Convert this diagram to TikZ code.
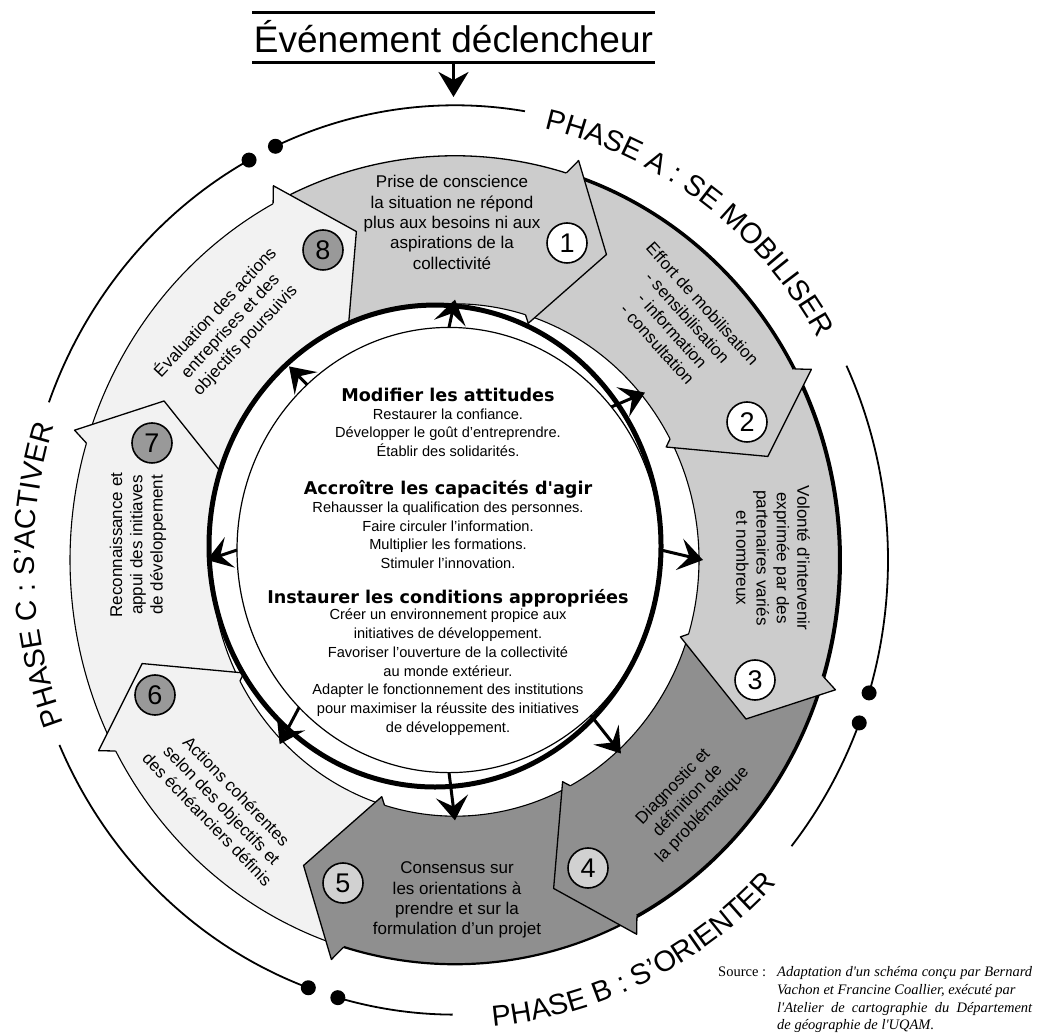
\documentclass[tikz,border=0pt]{standalone}
\usepackage{fontspec}
\setmainfont{Liberation Sans}
\newfontfamily\headfont{DejaVu Sans}
\newfontfamily\srcfont{Liberation Serif}
\usetikzlibrary{arrows.meta,decorations.text}

\definecolor{segA}{gray}{0.80}
\definecolor{segB}{gray}{0.56}
\definecolor{segC}{gray}{0.95}
\definecolor{numB}{gray}{0.82}
\definecolor{numC}{gray}{0.60}

\newcommand\fsz[2]{\fontsize{#1}{#2}\selectfont}
\newcommand\phasefont{\fontsize{29}{30}\selectfont}
\newcommand\Rout{385}
\newcommand\Rin{244}
\newcommand\Rph{433}

\newcommand\segbody[3]{%
  \fill[#2] (#1+45:\Rout) arc[start angle=#1+45, end angle=#1, radius=\Rout]
     -- (#1:\Rin) arc[start angle=#1, end angle=#1+45, radius=\Rin] -- cycle;
  \draw[line width=#3] (#1+45:\Rout) arc[start angle=#1+45, end angle=#1+0.8, radius=\Rout];
  \draw[line width=1.1pt] (#1+45:\Rin) arc[start angle=#1+45, end angle=#1+0.8, radius=\Rin];
}
\newcommand\seghead[2]{%
  \filldraw[fill=#2, line width=1.3pt, line join=round]
    (#1+1.2:\Rout) -- (#1:400) -- (#1-9.5:328) -- (#1:237) -- (#1+1.2:\Rin);
}

\begin{document}
\begin{tikzpicture}[x=1pt,y=1pt,
  dotc/.style={circle, fill=black, inner sep=0pt, minimum size=15pt},
  numc/.style={circle, draw, line width=1.6pt, minimum size=40pt, inner sep=0pt, font=\fsz{27}{27}},
  segtxt/.style={align=center, inner sep=0pt, font=\fsz{17}{20.3}},
  headtxt/.style={inner sep=0pt, font=\headfont\bfseries\fsz{17.6}{20}},
  bodytxt/.style={align=center, inner sep=0pt, font=\fsz{14.6}{18.8}},
  srctxt/.style={anchor=base west, inner sep=0pt, font=\srcfont\fsz{14.5}{18}},
  phasearc/.style={line width=1.8pt},
  smallarrow/.style={line width=3pt, -{Stealth[length=24pt,width=32pt,inset=10pt]}}
]
\fill[white] (0,0) rectangle (1040,1033);
\useasboundingbox (0,0) rectangle (1040,1033);

% ---------- title ----------
\draw[line width=3pt] (252,1020.5) -- (655,1020.5);
\draw[line width=3pt] (252,970) -- (655,970);
\node[anchor=base, inner sep=0pt] (title) at (453.5,980) {\fsz{37}{40}Événement déclencheur};
\coordinate (titlefoot) at (453.5,970);
\coordinate (ringtop) at (453.5,936);
\draw[line width=3pt, -{Stealth[length=25pt,width=30pt,inset=8pt]}] (titlefoot) -- (ringtop);

% ---------- ring ----------
\begin{scope}[shift={(455,473)}, yscale=1.05]
  \segbody{72}{segA}{1.3pt}
  \segbody{27}{segA}{3.5pt}
  \segbody{-18}{segA}{4pt}
  \segbody{-63}{segB}{3.5pt}
  \segbody{-108}{segB}{2.2pt}
  \segbody{-153}{segC}{1.1pt}
  \segbody{-198}{segC}{1.1pt}
  \segbody{-243}{segC}{1.1pt}
  \seghead{72}{segA}
  \seghead{27}{segA}
  \seghead{-18}{segA}
  \seghead{-63}{segB}
  \seghead{-108}{segB}
  \seghead{-153}{segC}
  \seghead{-198}{segC}
  \seghead{-243}{segC}

  % inner circles
  \filldraw[fill=white, line width=5pt] (-20,13.3) ellipse[x radius=226, y radius=229.5];
  \draw[line width=1.2pt] (-6,9.5) circle[radius=212];

  % small radiating arrows
  \foreach \a [count=\k] in {90,132,180,225,270,312,0,40}{
    \coordinate (ai\k) at ({-6+212*cos(\a)},{9.5+212*sin(\a)});
    \coordinate (ao\k) at (\a:248);
    \draw[smallarrow] (ai\k) -- (ao\k);
  }

  % phase arcs and dots
  \node[dotc] (dA1) at (114.5:\Rph) {};
  \node[dotc] (dA2) at (-17:\Rph) {};
  \node[dotc] (dB1) at (-21:\Rph) {};
  \node[dotc] (dB2) at (-105.7:\Rph) {};
  \node[dotc] (dC1) at (-109.8:\Rph) {};
  \node[dotc] (dC2) at (118.4:\Rph) {};
  \draw[phasearc] (dA1.center) arc[start angle=114.5, end angle=80.7, radius=\Rph];
  \draw[phasearc] (25.3:\Rph) arc[start angle=25.3, end angle=-17, radius=\Rph];
  \draw[phasearc] (dB1.center) arc[start angle=-21, end angle=-39, radius=\Rph];
  \draw[phasearc] (-90.3:\Rph) arc[start angle=-90.3, end angle=-105.7, radius=\Rph];
  \draw[phasearc] (dC1.center) arc[start angle=-109.8, end angle=-156, radius=\Rph];
  \draw[phasearc] (159.7:\Rph) arc[start angle=159.7, end angle=118.4, radius=\Rph];
\end{scope}

% ---------- phase titles ----------
\begin{scope}[shift={(455,473)}]
  \path[decorate, decoration={text along path, text align=center,
      text={|\phasefont|PHASE A : SE MOBILISER}}]
    (80:420 and 441) arc[start angle=80, end angle=28, x radius=420, y radius=441];
  \path[decorate, decoration={text along path, text align=center,
      text={|\phasefont|PHASE B : S'ORIENTER}}]
    (-90:446 and 468) arc[start angle=-90, end angle=-39, x radius=446, y radius=468];
  \path[decorate, decoration={text along path, text align=center,
      text={|\phasefont|PHASE C : S'ACTIVER}}]
    (207:421 and 442) arc[start angle=207, end angle=157, x radius=421, y radius=442];
\end{scope}

% ---------- numbers ----------
\node[numc, fill=white] (n1) at (567,790) {1};
\node[numc, fill=white] (n2) at (747,611) {2};
\node[numc, fill=white] (n3) at (755,353) {3};
\node[numc, fill=numB] (n4) at (588,165) {4};
\node[numc, fill=numB] (n5) at (343,150) {5};
\node[numc, fill=numC] (n6) at (155,338) {6};
\node[numc, fill=numC] (n7) at (152,590) {7};
\node[numc, fill=numC] (n8) at (323,783) {8};

% ---------- segment texts ----------
\node[segtxt] (s1) at (452,810.5) {Prise de conscience\\la situation ne répond\\plus aux besoins ni aux\\aspirations de la\\collectivité};
\node[segtxt, rotate=-48] (s2) at (680,709) {Effort de mobilisation\\- sensibilisation\\- information\\- consultation};
\node[segtxt, rotate=-90] (s3) at (773,475) {Volonté d'intervenir\\exprimée par des\\partenaires variés\\et nombreux};
\node[segtxt, rotate=46] (s4) at (688,232) {Diagnostic et\\définition de\\la problématique};
\node[segtxt] (s5) at (457,133) {Consensus sur\\les orientations à\\prendre et sur la\\formulation d'un projet};
\node[segtxt, rotate=-46] (s6) at (222,228) {Actions cohérentes\\selon des objectifs et\\des échéanciers définis};
\node[segtxt, rotate=90] (s7) at (138,488) {Reconnaissance et\\appui des initiaves\\de développement};
\node[segtxt, rotate=47] (s8) at (230,707) {Évaluation des actions\\entreprises et des\\objectifs poursuivis};

% ---------- centre texts ----------
\node[headtxt] (h1) at (448,638) {Modifier les attitudes};
\node[bodytxt] (b1) at (448,600.3) {Restaurer la confiance.\\Développer le goût d'entreprendre.\\Établir des solidarités.};
\node[headtxt] (h2) at (448,544) {Accroître les capacités d'agir};
\node[bodytxt] (b2) at (448,497.7) {Rehausser la qualification des personnes.\\Faire circuler l'information.\\Multiplier les formations.\\Stimuler l'innovation.};
\node[headtxt] (h3) at (448,435) {Instaurer les conditions appropriées};
\node[bodytxt] (b3) at (448,360.7) {Créer un environnement propice aux\\initiatives de développement.\\Favoriser l'ouverture de la collectivité\\au monde extérieur.\\Adapter le fonctionnement des institutions\\pour maximiser la réussite des initiatives\\de développement.};

% ---------- source ----------
\node[srctxt] (srcl) at (718,57) {Source :};
\node[srctxt, font=\srcfont\itshape\fsz{14.5}{18}] (src1) at (777,57) {\makebox[255pt][s]{Adaptation d'un schéma conçu par Bernard}};
\node[srctxt, font=\srcfont\itshape\fsz{14.5}{18}] (src2) at (777,39) {Vachon et Francine Coallier, exécuté par};
\node[srctxt, font=\srcfont\itshape\fsz{14.5}{18}] (src3) at (777,21) {\makebox[255pt][s]{l'Atelier de cartographie du Département}};
\node[srctxt, font=\srcfont\itshape\fsz{14.5}{18}] (src4) at (777,4) {de géographie de l'UQAM.};
\end{tikzpicture}
\end{document}
